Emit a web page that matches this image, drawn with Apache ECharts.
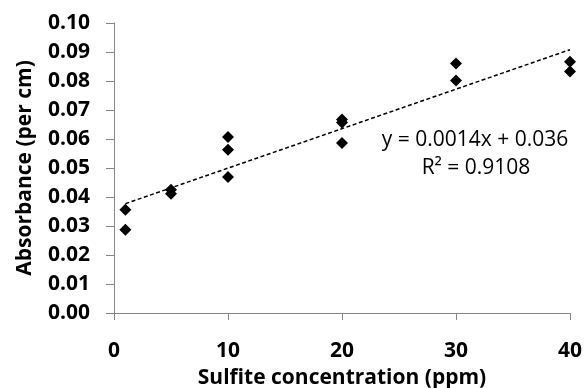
<!DOCTYPE html>
<html>
<head>
<meta charset="utf-8">
<script src="https://cdn.jsdelivr.net/npm/echarts@6/dist/echarts.min.js"></script>
<style>
html,body{margin:0;padding:0;background:#fff;}
#chart{width:585px;height:388px;}
</style>
</head>
<body>
<div id="chart"></div>
<script>
// Data
const concentrations = [1, 1, 5, 5, 10, 10, 10, 20, 20, 20, 30, 30, 40, 40];
const absorbance = [0.0356, 0.0287, 0.0425, 0.0411, 0.0607, 0.0563, 0.0469, 0.0667, 0.0657, 0.0586, 0.0860, 0.0802, 0.0866, 0.0833];
const trendX = [1, 40];
const trendY = [0.0377, 0.0908];
const equationText = "y = 0.0014x + 0.036";
const r2Text = "R\u00B2 = 0.9108";
const xTitle = "Sulfite concentration (ppm)";
const yTitle = "Absorbance (per cm)";

const scatterData = concentrations.map((x, i) => [x, absorbance[i]]);
const trendData = trendX.map((x, i) => [x, trendY[i]]);

const chart = echarts.init(document.getElementById('chart'), null, {renderer: 'canvas'});
const axisColor = '#868686';
const boldFont = {fontFamily: 'Open Sans', fontWeight: 'bold', fontSize: 21, color: '#000'};

chart.setOption({
  animation: false,
  backgroundColor: '#fff',
  grid: {left: 114, top: 23, width: 456, height: 290, containLabel: false, outerBoundsMode: 'none'},
  xAxis: {
    type: 'value', min: 0, max: 40, interval: 10,
    name: xTitle, nameLocation: 'middle', nameGap: 55,
    nameTextStyle: boldFont,
    axisLine: {show: true, onZero: false, lineStyle: {color: axisColor, width: 1}},
    axisTick: {show: true, inside: false, length: 7, lineStyle: {color: axisColor}},
    axisLabel: Object.assign({margin: 28, formatter: v => String(v)}, boldFont),
    splitLine: {show: false}
  },
  yAxis: {
    type: 'value', min: 0, max: 0.1, interval: 0.01,
    name: yTitle, nameLocation: 'middle', nameGap: 78,
    nameTextStyle: boldFont,
    axisLine: {show: true, lineStyle: {color: axisColor, width: 1}},
    axisTick: {show: true, inside: false, length: 8, lineStyle: {color: axisColor}},
    axisLabel: Object.assign({margin: 24, formatter: v => v.toFixed(2)}, boldFont),
    splitLine: {show: false}
  },
  series: [
    {
      type: 'line', data: trendData, symbol: 'none', silent: true,
      lineStyle: {color: '#000', width: 1.5, type: [4, 2.5]}, z: 1
    },
    {
      type: 'scatter', data: scatterData, symbol: 'diamond', symbolSize: 12,
      itemStyle: {color: '#000', opacity: 1}, z: 2
    }
  ],
  graphic: [
    {type: 'text', x: 475, y: 140, style: {text: equationText, font: '21px "Open Sans"', fill: '#000', align: 'center', verticalAlign: 'middle'}},
    {type: 'text', x: 476, y: 168, style: {text: r2Text, font: '21px "Open Sans"', fill: '#000', align: 'center', verticalAlign: 'middle'}}
  ]
});
</script>
</body>
</html>
